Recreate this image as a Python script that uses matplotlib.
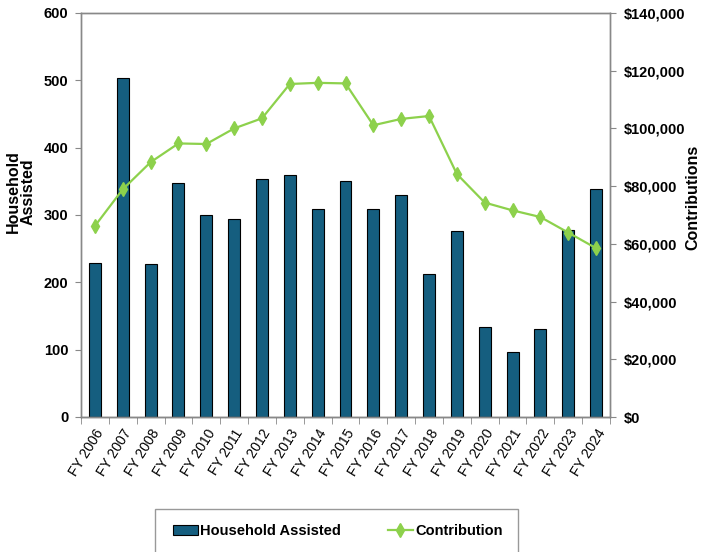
import matplotlib
matplotlib.use("Agg")
import matplotlib.pyplot as plt
import numpy as np
from matplotlib.ticker import FuncFormatter, FixedLocator
from matplotlib.patches import Rectangle

years = ["FY 2006", "FY 2007", "FY 2008", "FY 2009", "FY 2010", "FY 2011", "FY 2012",
         "FY 2013", "FY 2014", "FY 2015", "FY 2016", "FY 2017", "FY 2018", "FY 2019",
         "FY 2020", "FY 2021", "FY 2022", "FY 2023", "FY 2024"]
households = [228, 503, 227, 348, 300, 294, 354, 359, 309, 350, 309, 330, 212, 276,
              133, 96, 130, 277, 339]
contributions = [66200, 78900, 88300, 94800, 94600, 100000, 103500, 115400, 115800, 115600,
                 101100, 103300, 104300, 84200, 74300, 71600, 69300, 63900, 58500]

FONT = "Liberation Sans"
BAR = "#155e7f"
LINE = "#8dd14c"
W, H = 701, 552

fig = plt.figure(figsize=(7.01, 5.52), dpi=100)
ax = fig.add_axes([81 / W, 1 - 417 / H, 529 / W, 404 / H])
ax2 = ax.twinx()

x = np.arange(len(years))
bars = ax.bar(x, households, width=0.43, color=BAR, edgecolor="black", linewidth=0.8,
              label="Household Assisted", zorder=2)
line, = ax2.plot(x, contributions, color=LINE, lw=1.6, marker="d", markersize=7.5,
                 markeredgecolor=LINE, label="Contribution", zorder=3)

ax.set_xlim(-0.5, len(years) - 0.5)
ax.set_ylim(0, 600)
ax2.set_ylim(0, 140000)
ax.set_yticks(range(0, 601, 100))
ax2.set_yticks(range(0, 140001, 20000))
ax2.yaxis.set_major_formatter(FuncFormatter(lambda v, p: f"${int(v):,}"))

ax.set_xticks(x)
ax.set_xticklabels(years, rotation=58, ha="right", va="top", rotation_mode="anchor",
                   fontsize=10, family=FONT)
ax.tick_params(axis="x", length=0, pad=7)
ax.xaxis.set_minor_locator(FixedLocator(np.arange(-0.5, len(years), 1.0)))
ax.tick_params(axis="x", which="minor", length=5, direction="out", color="#888888")

for a in (ax, ax2):
    for lab in a.get_yticklabels():
        lab.set_family(FONT); lab.set_fontweight("bold"); lab.set_fontsize(10.5)
ax.tick_params(axis="y", length=4, color="#888888", pad=5)
ax2.tick_params(axis="y", length=4, color="#888888", pad=6)

for a in (ax, ax2):
    for s in a.spines.values():
        s.set_color("#888888")
        s.set_linewidth(1.0)
ax.spines["bottom"].set_color("#555555")

fig.text(21 / W, 1 - 192 / H, "Household\nAssisted", rotation=90, ha="center", va="center",
         fontsize=11.5, fontweight="bold", family=FONT, linespacing=1.0)
fig.text(693 / W, 1 - 197 / H, "Contributions", rotation=90, ha="center", va="center",
         fontsize=11.5, fontweight="bold", family=FONT)

# legend frame (bottom is cut off by figure edge, like the reference)
fig.patches.append(Rectangle((155 / W, -0.05), 363 / W, 0.05 + (1 - 509 / H),
                             transform=fig.transFigure, fill=False,
                             edgecolor="#999999", linewidth=1.0))
leg = fig.legend(handles=[bars, line], labels=["Household Assisted", "Contribution"],
                 loc="center", bbox_to_anchor=(338 / W, 1 - 531 / H), ncol=2,
                 frameon=False, handlelength=1.7, handletextpad=0.2, columnspacing=3.2,
                 prop={"family": FONT, "weight": "bold", "size": 10.5})

fig.savefig("out.png", dpi=100)
